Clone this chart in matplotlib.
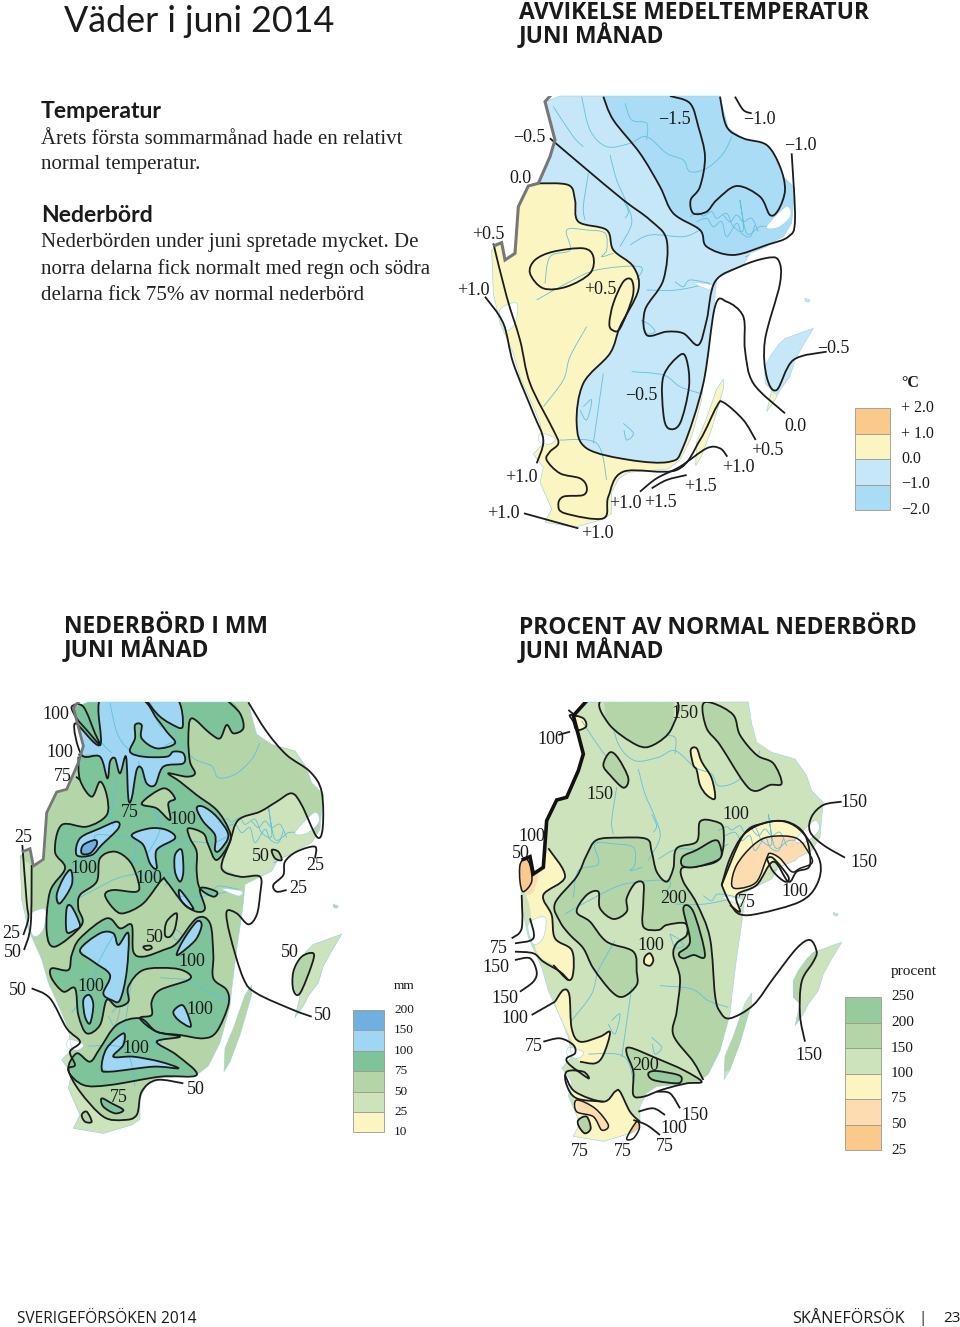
import numpy as np
import matplotlib
matplotlib.use("Agg")
import matplotlib.pyplot as plt
from matplotlib.path import Path
from matplotlib.patches import PathPatch
from matplotlib.transforms import Affine2D

# colours
BLUE_LIGHT = "#c6e7f7"
BLUE_MID = "#abdcf5"
YELLOW = "#fbf5c1"
ORANGE_LIGHT = "#fcdcb0"
ORANGE = "#fbc98c"
GREEN_PALE = "#cde3bc"
GREEN_SOFT = "#b3d5a8"
GREEN_MID = "#97cb9d"
GREEN_DEEP = "#7dc49b"
SKY = "#9ed6f4"
SKY_DEEP = "#6fb0e0"
WATER = "#62c0dc"

# shared geography, coordinates as read in the first map crop
mainland = [(330,-15),(810,-15),(820,60),(835,115),(880,145),(950,165),(985,215),(1000,260),(1035,295),(1030,340),
            (1025,400),(1000,440),(960,460),(950,470),(900,490),(880,525),(800,565),(795,620),(790,660),(775,760),
            (760,880),(755,930),(725,1040),(690,1110),(655,1137),(535,1147),(505,1167),(485,1207),(485,1270),(460,1287),
            (375,1312),(285,1297),(305,1257),(270,1177),(280,1132),(250,1092),(280,1060),(270,1000),(250,950),(210,860),
            (190,790),(150,700),(130,610),(125,480),(155,458),(165,510),(195,490),(205,350),(235,288),(265,280),
            (300,200),(315,150),(285,35)]
oland = [(820,867),(800,897),(765,997),(740,1057),(737,1127),(755,1097),(785,1017),(820,897)]
gotland = [(950,965),(975,930),(990,900),(1020,860),(1035,810),(1060,765),(1090,715),(1060,725),(1035,735),(1005,745),
           (985,765),(960,800),(945,830),(945,880),(965,900)]
islet = [(1065,625),(1080,630),(1075,637),(1065,633)]
inlets = [[(272,1030),(315,1045),(300,1062),(268,1055)],
          [(950,410),(1008,350),(1022,378),(985,412)],
          [(730,578),(790,585),(780,600)],
          [(150,660),(200,640),(195,700),(165,720)]]
border = [(330,-15),(285,35),(315,150),(300,200),(265,280),(235,288),(205,350),(195,490),(165,510),(155,458),(130,468)]
rivers = [
    [(395,20),(420,120),(470,170),(540,160),(590,140),(650,190),(700,210),(720,245),(770,235),(820,190),(845,140)],
    [(310,50),(370,140),(400,170)],
    [(480,195),(500,270),(530,340),(545,400),(510,470)],
    [(415,250),(400,350),(405,390)],
    [(540,465),(600,435),(700,440),(750,420)],
    [(525,40),(545,90),(590,100),(590,150)],
    [(285,580),(300,500),(360,480),(350,420),(410,420),(465,430),(470,480),(455,500),(490,490)],
    [(260,630),(350,580),(440,540),(570,530),(560,570)],
    [(590,600),(680,600),(780,580)],
    [(280,950),(340,870),(360,800),(410,710)],
    [(545,845),(640,855),(690,890),(750,910)],
    [(430,1060),(460,850)],
    [(330,1050),(440,1060),(470,1170)],
    [(720,380),(745,368),(760,378),(785,365),(800,385),(830,370),(850,410),(880,420),(870,330),(890,430),(930,410),(960,410)],
    [(740,395),(770,385),(790,410),(815,395),(830,440),(860,400),(875,430),(900,440),(915,405)],
    [(820,375),(840,395),(860,375),(880,395),(905,385),(925,425)],
    [(575,690),(590,730),(615,725),(600,705),(575,690)],
    [(400,950),(425,930),(410,990),(390,960)],
    [(520,1000),(550,1030),(530,1050),(522,1020)],
    [(520,330),(535,365),(525,385)],
    [(885,500),(925,490),(905,530)],
    [(675,575),(700,590),(720,570),(780,580)],
]

# map 1: temperature anomaly
temp_yellow = [(260,280),(355,285),(375,330),(385,395),(470,420),(490,480),(550,530),(565,600),(510,710),(480,790),
               (400,880),(380,1000),(410,1075),(540,1110),(660,1115),(700,1070),(760,880),(795,650),(830,635),(880,680),
               (885,780),(910,880),(1005,970),(1005,1400),(60,1400),(60,280)]
temp_blue = [(460,20),(490,90),(570,190),(630,290),(670,370),(750,420),(770,470),(850,495),(950,465),(1015,440),
             (1035,390),(1025,190),(1100,100),(1000,0),(460,-20)]
temp_lines = [
    [(660,18),(720,40),(745,110),(765,200),(750,290),(722,330),(730,370),(770,365),(800,330),(860,288),(930,320),
     (960,375),(985,360),(1005,300),(990,230),(950,165),(880,145),(830,110),(810,20)],
    [(300,145),(400,230),(520,330),(600,390),(650,450),(640,570),(585,660),(590,735),(650,725),(700,730),(745,765),
     (770,690),(795,575),(870,530),(945,505),(985,510),(990,580),(945,750),(950,860),(980,900),(1030,810),(1130,785)],
    [(130,460),(170,620),(210,750),(240,880),(310,1020),(325,1060),(300,1085),(290,1110),(330,1150),(390,1165),
     (410,1190),(400,1215),(340,1220),(325,1245),(345,1270),(460,1285),(475,1220),(520,1145),(680,1140),(750,1050),
     (800,950),(820,937),(880,990),(917,1050)],
    [(105,620),(160,700),(190,820),(250,970),(280,1050),(260,1120)],
    [(222,1270),(385,1315)],
    [(570,1205),(620,1165),(690,1130),(770,1075),(810,1075),(832,1100)],
    [(605,1195),(650,1170),(710,1155)],
    [(855,20),(880,60),(905,70)],
]
temp_ovals = [
    [(640,860),(690,795),(710,810),(717,890),(690,1000),(655,1015),(640,970)],
    [(240,550),(255,510),(310,485),(400,475),(430,500),(420,550),(350,590),(280,595)],
    [(478,700),(490,640),(520,575),(545,570),(548,620),(510,715),(487,720)],
]
temp_labels = [("\u22120.5",529,136),("\u22121.5",674,118),("\u22121.0",759,118),("\u22121.0",800,144),("0.0",520,177),
               ("+0.5",488,233),("+1.0",473,289),("+0.5",600,288),("\u22120.5",833,347),("\u22120.5",641,394),
               ("0.0",795,425),("+0.5",767,449),("+1.0",738,466),("+1.0",521,476),("+1.5",700,485),("+1.0",625,502),
               ("+1.5",660,501),("+1.0",503,512),("+1.0",597,532)]
temp_ticks = ["+ 2.0","+ 1.0","0.0","\u22121.0","\u22122.0"]
temp_colours = [ORANGE, YELLOW, BLUE_LIGHT, BLUE_MID]

# map 2: precipitation in mm
rain_pale = [
    [(665,520),(690,440),(715,375),(780,350),(830,320),(875,295),(905,330),(940,410),(965,420),(1000,500),(900,600),
     (780,700),(745,688),(770,660),(780,600),(780,545),(720,545)],
    [(745,22),(800,110),(860,180),(930,230),(965,290),(1000,280),(900,100),(800,15)],
    [(95,880),(150,910),(200,1000),(240,1040),(210,1070),(225,1110),(205,1125),(240,1190),(310,1265),(370,1275),
     (410,1260),(425,1190),(470,1155),(550,1165),(560,1350),(100,1350),(0,1000)],
    [(95,510),(90,700),(70,770),(60,900),(0,900),(0,450)],
    [(840,700),(1040,700),(1040,1000),(840,1000)],
]
rain_green = [
    [(235,185),(240,255),(275,305),(300,260),(320,300),(320,360),(260,395),(185,390),(165,470),(195,520),(150,590),
     (140,710),(165,755),(245,690),(235,640),(240,600),(290,560),(300,490),(345,470),(390,500),(415,560),(410,590),
     (340,585),(315,600),(340,640),(370,655),(430,625),(485,555),(500,560),(550,625),(590,650),(615,640),(600,580),
     (650,590),(640,605),(600,580),(590,530),(590,470),(570,430),(565,400),(610,415),(625,450),(650,495),(690,440),
     (685,400),(650,345),(590,300),(540,260),(505,235),(560,245),(585,235),(570,200),(565,130),(575,70),(630,115),
     (660,130),(680,90),(700,115),(730,100),(720,55),(680,15),(540,15),(235,15)],
    [(215,780),(240,730),(320,670),(360,700),(395,690),(400,770),(430,785),(490,765),(530,745),(590,670),(630,685),
     (640,780),(640,850),(680,885),(685,930),(650,1010),(610,1030),(540,1020),(470,1010),(420,970),(455,960),(455,920),
     (480,885),(565,855),(565,835),(520,820),(430,825),(385,875),(385,920),(350,935),(320,915),(300,990),(260,1015),
     (235,960),(225,880),(190,890),(155,850),(155,820),(205,825)],
    [(300,1060),(350,990),(420,970),(470,1010),(540,1025),(470,1040),(530,1080),(590,1140),(480,1145),(330,1170),
     (250,1170),(205,1125),(230,1075),(270,1100)],
    [(305,1210),(335,1225),(370,1245),(345,1255),(310,1235)],
    [(215,35),(250,35),(285,115),(300,150),(260,105),(230,70)],
]
rain_soft = [
    [(425,325),(490,280),(525,310),(505,325),(510,375),(470,340)],
    [(500,680),(530,655),(525,700),(510,725),(495,720)],
    [(430,755),(450,752),(455,760),(440,765)],
    [(815,465),(835,470),(845,495),(825,490)],
    [(245,1260),(260,1250),(275,1280),(255,1280)],
    [(880,830),(905,785),(940,775),(935,810),(900,895),(880,885)],
]
rain_sky = [
    [(225,85),(300,150),(302,10),(420,10),(470,70),(500,110),(525,145),(470,160),(425,130),(425,90),(405,90),(405,130),
     (390,170),(430,185),(500,185),(520,170),(550,175),(550,205),(490,215),(465,270),(440,265),(425,220),(410,225),
     (395,310),(385,310),(378,185),(360,235),(345,190),(330,200),(322,250),(300,185),(245,180)],
    [(445,10),(530,10),(548,95),(510,85),(470,55)],
    [(590,340),(610,335),(650,365),(685,420),(660,465),(645,465),(645,420),(610,380)],
    [(230,480),(240,430),(300,400),(350,380),(355,400),(305,450),(275,480)],
    [(395,420),(450,400),(500,405),(525,430),(470,465),(470,520),(450,505),(430,450)],
    [(525,480),(545,465),(550,530),(540,560),(525,530)],
    [(170,600),(190,550),(212,525),(215,570),(180,625)],
    [(200,640),(215,635),(240,690),(225,705),(200,710)],
    [(540,585),(580,640),(560,635),(540,610)],
    [(240,765),(300,715),(340,715),(355,750),(385,715),(380,830),(360,915),(335,915),(310,895),(330,840),(280,800)],
    [(530,780),(550,735),(590,680),(605,690),(590,730),(560,760)],
    [(250,915),(268,900),(280,930),(270,985),(255,965)],
    [(520,950),(545,930),(560,950),(572,995),(535,975)],
    [(305,1120),(320,1060),(370,1015),(370,1050),(340,1085),(400,1085),(480,1100),(535,1120),(460,1115),(330,1130)],
]
rain_deep = [[(245,475),(250,450),(285,435),(290,450),(270,475)]]
rain_lines = [
    [(745,22),(800,110),(860,180),(930,230),(965,290),(968,400),(950,425),(905,330),(875,295),(830,320),(780,350),
     (715,375),(690,440),(665,520),(720,545),(780,545),(780,600),(770,660),(745,688),(710,655),(680,650),(690,720),
     (730,850),(770,895),(880,945),(935,965)],
    [(67,450),(80,620),(85,670),(70,720)],
    [(95,510),(92,690),(72,765)],
    [(945,490),(945,455),(890,470),(855,500),(850,540),(820,570),(830,590),(860,585)],
    [(95,880),(150,910),(200,1000),(240,1040),(210,1070),(225,1110),(205,1125),(240,1190),(310,1265),(370,1275),
     (410,1260),(425,1190),(470,1155),(550,1165)],
    [(235,178),(245,182)],
    [(228,245),(240,255)],
]
rain_labels = [("100",56,713),("100",60,751),("75",63,775),("25",23,836),("75",130,811),("100",183,818),("100",84,867),
               ("100",149,877),("50",261,855),("25",315,864),("25",298,887),("25",11,932),("50",13,951),("50",155,936),
               ("100",192,960),("50",290,951),("50",18,989),("100",91,985),("100",200,1008),("50",323,1014),
               ("100",136,1047),("50",196,1088),("75",119,1096)]
rain_ticks = ["200","150","100","75","50","25","10"]
rain_colours = [SKY_DEEP, SKY, GREEN_DEEP, GREEN_SOFT, GREEN_PALE, YELLOW]

# map 3: percent of normal
pct_soft = [
    [(372,10),(385,85),(470,150),(520,150),(575,100),(580,10)],
    [(668,30),(700,25),(760,60),(780,120),(830,180),(880,205),(905,265),(870,270),(825,288),(790,260),(720,150),(680,100)],
    [(370,210),(390,172),(415,190),(445,250),(430,278),(390,240)],
    [(440,1075),(450,1058),(530,1090),(610,1125),(665,1160),(620,1165),(560,1180),(530,1190),(490,1205),(460,1200),(460,1130)],
    [(295,1275),(320,1265),(332,1300),(315,1315),(297,1295)],
]
pct_big = [(670,1155),(640,1100),(580,1020),(590,950),(600,850),(580,780),(590,745),(620,720),(615,685),(560,690),
           (535,705),(490,695),(490,620),(490,565),(465,565),(440,610),(440,650),(400,672),(360,640),(355,590),(320,600),
           (290,650),(330,680),(380,740),(460,770),(470,830),(470,870),(430,905),(395,890),(340,820),(310,760),(270,720),
           (240,680),(225,625),(290,545),(320,480),(350,435),(420,428),(500,432),(515,470),(530,530),(560,560),(580,520),
           (590,460),(650,440),(660,380),(700,378),(730,400),(720,490),(650,515),(605,520),(610,560),(650,625),(690,730),
           (705,900),(720,950),(750,970),(820,930),(880,850),(950,760),(990,735),(1010,770),(1000,800),(965,860),(960,960),
           (975,1040)]
pct_mid = [
    [(608,485),(650,465),(700,437),(718,445),(720,490),(650,515),(608,513)],
    [(610,640),(640,650),(675,780),(640,780),(610,790),(597,775),(630,740)],
    [(505,1135),(530,1128),(595,1140),(605,1155),(590,1165),(520,1155)],
]
pct_yellow = [
    [(270,60),(310,70),(318,95),(290,105),(280,80)],
    [(632,165),(650,160),(665,200),(695,250),(705,310),(680,300),(660,270),(650,225),(640,210)],
    [(205,460),(255,545),(190,600),(215,660),(225,730),(275,765),(280,830),(265,855),(220,810),(170,770),(150,640),(140,590),(175,535)],
    [(495,785),(510,775),(520,795),(510,812),(493,805)],
    [(225,920),(250,885),(268,900),(275,1000),(300,1040),(360,1025),(390,1012),(370,1080),(345,1105),(300,1100),(280,1045),(235,960)],
    [(255,1140),(285,1190),(370,1220),(405,1190),(420,1190),(450,1250),(480,1280),(470,1360),(240,1360),(285,1220)],
    [(725,570),(750,490),(790,420),(850,385),(920,380),(975,420),(990,510),(950,530),(925,560),(880,500),(830,570),(770,600),(780,650),(750,630)],
]
pct_peach = [
    [(290,1215),(345,1240),(385,1290),(365,1305),(340,1265),(290,1250)],
    [(755,570),(770,510),(820,450),(870,425),(950,430),(990,480),(995,505),(960,520),(935,530),(900,490),(870,475),(860,490),(830,560),(780,580)],
    [(145,560),(175,535),(160,590),(140,600)],
]
pct_orange = [
    [(120,510),(135,490),(150,510),(155,560),(130,590),(120,560)],
    [(440,1330),(470,1280),(478,1300),(460,1330)],
]
pct_lines = [
    [(1085,320),(1030,330),(995,365),(990,410),(1030,450),(1095,488)],
    [(265,45),(290,65)],
    [(270,110),(235,120)],
    [(125,600),(125,700),(95,730)],
    [(105,745),(160,730),(150,670)],
    [(105,770),(160,775),(190,800),(240,830),(265,855)],
    [(105,795),(150,790),(170,830),(160,860),(120,890)],
    [(155,960),(225,920)],
    [(190,1040),(240,1030),(280,1050),(285,1075),(260,1090),(270,1110),(325,1150),(310,1130),(260,1130),(260,1170),(290,1210),(370,1220)],
    [(475,1250),(520,1240),(555,1260)],
    [(460,1275),(500,1290),(540,1320)],
    [(530,1190),(570,1195),(600,1240)],
    [(725,570),(790,420),(850,385),(915,380),(970,415),(1020,500),(1010,570),(960,620),(840,655),(780,658),(750,625),(725,570)],
    [(860,490),(880,490),(925,545),(915,560),(880,530),(860,490)],
]
pct_labels = [("150",685,712),("100",551,738),("150",600,793),("100",736,813),("150",854,801),("150",864,861),
              ("100",532,835),("50",521,852),("200",674,897),("75",747,901),("100",795,890),("100",651,944),("75",499,947),
              ("150",496,966),("150",505,997),("100",515,1017),("75",534,1045),("200",646,1064),("150",809,1054),
              ("150",695,1114),("100",674,1127),("75",665,1145),("75",580,1150),("75",623,1150)]
pct_ticks = ["250","200","150","100","75","50","25"]
pct_colours = [GREEN_MID, GREEN_SOFT, GREEN_PALE, YELLOW, ORANGE_LIGHT, ORANGE]

body_text = [("Årets första sommarmånad hade en relativt",139),("normal temperatur.",165),
             ("Nederbörden under juni spretade mycket. De",243),("norra delarna fick normalt med regn och södra",269),
             ("delarna fick 75% av normal nederbörd",295)]


def smooth(pts, closed=False):
    # catmull-rom through the read points, as bezier segments
    p = np.array(pts, dtype=float)
    n = len(p)
    verts = [p[0]]
    codes = [Path.MOVETO]
    for i in range(n if closed else n - 1):
        if closed:
            p0, p1, p2, p3 = p[(i-1) % n], p[i], p[(i+1) % n], p[(i+2) % n]
        else:
            p0, p1, p2, p3 = p[max(i-1, 0)], p[i], p[i+1], p[min(i+2, n-1)]
        verts += [p1 + (p2-p0)/6, p2 - (p3-p1)/6, p2]
        codes += [Path.CURVE4] * 3
    return Path(verts, codes)


def closed_fill(pts):
    path = smooth(pts)
    verts = np.vstack([path.vertices, path.vertices[:1]])
    return Path(verts, list(path.codes) + [Path.CLOSEPOLY])


fig = plt.figure(figsize=(9.6, 13.27), dpi=100)
ax = fig.add_axes([0, 0, 1, 1])
ax.set_xlim(0, 960)
ax.set_ylim(1327, 0)
ax.axis("off")

z = {"n": 1}


def next_z():
    z["n"] += 0.01
    return z["n"]


class MapPanel:
    def __init__(self, zoom_x, zoom_y, shift_x, shift_y, top, base, border_colour, border_width):
        self.own = Affine2D().scale(1/3).translate(zoom_x, zoom_y) + ax.transData
        self.shared = Affine2D().translate(shift_x, shift_y).scale(1/3).translate(zoom_x, zoom_y) + ax.transData
        self.top = top
        limit = (top - zoom_y) * 3 - shift_y
        land = [np.array(mainland, float), np.array(oland, float), np.array(gotland, float), np.array(islet, float)]
        land[0][:, 1] = np.maximum(land[0][:, 1], limit)
        self.land = Path.make_compound_path(*[Path(np.vstack([a, a[:1]]), closed=True) for a in land])
        ax.add_patch(PathPatch(self.land, fc=base, ec="none", transform=self.shared, zorder=next_z()))
        self.box = Path([(0, top), (960, top), (960, 1327), (0, 1327), (0, top)], closed=True)
        self.border_style = (border_colour, border_width)

    def fill(self, pts, colour):
        patch = PathPatch(closed_fill(pts), fc=colour, ec="none", transform=self.own, zorder=next_z())
        ax.add_patch(patch)
        patch.set_clip_path(self.land, self.shared)

    def stroke(self, path, lw=1.3):
        patch = PathPatch(path, fc="none", ec="#1c1c1c", lw=lw, transform=self.own, zorder=next_z())
        ax.add_patch(patch)
        patch.set_clip_path(self.box, ax.transData)

    def zone(self, pts, colour):
        self.fill(pts, colour)
        self.stroke(smooth(pts, closed=True))

    def water(self):
        for r in rivers:
            river = PathPatch(smooth(r), fc="none", ec=WATER, lw=0.6, transform=self.shared, zorder=next_z())
            ax.add_patch(river)
            river.set_clip_path(self.land, self.shared)
        for gap in inlets:
            ax.add_patch(PathPatch(smooth(gap, closed=True), fc="white", ec="#9ad3e4", lw=0.4,
                                   transform=self.shared, zorder=next_z()))
        ax.add_patch(PathPatch(self.land, fc="none", ec="#9ad3e4", lw=0.4, transform=self.shared, zorder=next_z()))

    def finish(self):
        line = PathPatch(Path(np.array(border, float)), fc="none", ec=self.border_style[0], lw=self.border_style[1],
                         transform=self.shared, zorder=next_z())
        ax.add_patch(line)
        line.set_clip_path(self.box, ax.transData)


def labels(items, size=13):
    for txt, x, y in items:
        ax.text(x, y + 1.5, txt, family="Liberation Serif", fontsize=size, color="#1a1a1a", ha="center", va="center", zorder=5)


def legend(x, y0, w, row, colours, ticks, title, tx, size, title_y):
    for i, c in enumerate(colours):
        ax.bar(x + w/2, row, width=w, bottom=y0 + i*row, color=c, edgecolor="#9a9a8a", linewidth=0.6, zorder=4)
    for i, t in enumerate(ticks):
        ax.text(tx, y0 + i*row, t, family="Liberation Serif", fontsize=size, color="#1a1a1a", va="center", zorder=5)
    ax.text(tx, title_y, title, family="Liberation Serif", fontsize=size, color="#1a1a1a", va="center", zorder=5,
            fontweight="bold" if title == "°C" else "normal")


# temperature map
m1 = MapPanel(450, 90, 0, 0, 96, BLUE_LIGHT, "#777777", 2.2)
m1.fill(temp_blue, BLUE_MID)
m1.fill(temp_yellow, YELLOW)
m1.water()
m1.stroke(smooth(temp_blue[:12]))
m1.stroke(smooth(temp_yellow[:23]))
for line in temp_lines:
    m1.stroke(smooth(line))
for oval in temp_ovals:
    m1.stroke(smooth(oval, closed=True))
m1.finish()
labels(temp_labels)
legend(855, 408, 35, 25.5, temp_colours, temp_ticks, "°C", 901, 11.5, 383)

# rain map
m2 = MapPanel(0, 695, -65, 3, 702, GREEN_SOFT, "#777777", 2.0)
for part in rain_pale:
    m2.fill(part, GREEN_PALE)
for part in rain_green:
    m2.fill(part, GREEN_DEEP)
for part in rain_sky:
    m2.fill(part, SKY)
m2.water()
for part in rain_green:
    m2.stroke(smooth(part[:-2]) if part is rain_green[0] else smooth(part, closed=True))
for part in rain_sky:
    m2.stroke(smooth(part, closed=True))
for part in rain_soft:
    m2.zone(part, GREEN_SOFT)
for part in rain_deep:
    m2.zone(part, SKY_DEEP)
for line in rain_lines:
    m2.stroke(smooth(line))
m2.finish()
labels(rain_labels)
legend(353, 1010, 31, 20.4, rain_colours, rain_ticks, "mm", 394, 9.5, 986)

# percent map
m3 = MapPanel(480, 695, -5, 27, 702, GREEN_PALE, "#111111", 2.6)
m3.fill(pct_big, GREEN_SOFT)
for part in pct_yellow:
    m3.fill(part, YELLOW)
for part in pct_peach:
    m3.fill(part, ORANGE_LIGHT)
for part in pct_orange:
    m3.fill(part, ORANGE)
m3.water()
m3.stroke(smooth(pct_big))
for part in pct_soft:
    m3.zone(part, GREEN_SOFT)
for part in pct_mid:
    m3.zone(part, GREEN_MID)
for i, part in enumerate(pct_yellow):
    if i in (0, 1, 3):
        m3.stroke(smooth(part, closed=True))
    elif i == 2:
        m3.stroke(smooth(part[:9]))
    elif i == 4:
        m3.stroke(smooth(part[:10]))
    elif i == 5:
        m3.stroke(smooth(part[:7]))
    else:
        m3.stroke(smooth(part))
for part in pct_peach[:2] + pct_orange:
    m3.stroke(smooth(part, closed=True), lw=1.1)
for line in pct_lines:
    m3.stroke(smooth(line))
m3.finish()
labels(pct_labels)
legend(845, 997, 36, 25.5, pct_colours, pct_ticks, "procent", 891, 11, 972)

# page text
ax.text(64, 21, "Väder i juni 2014", family="Lato", fontsize=25.8, color="#1a1a1a", va="center", zorder=6)
for txt, x, y in [("AVVIKELSE MEDELTEMPERATUR", 519, 19), ("JUNI MÅNAD", 519, 43),
                  ("NEDERBÖRD I MM", 64, 633), ("JUNI MÅNAD", 64, 657),
                  ("PROCENT AV NORMAL NEDERBÖRD", 519, 634), ("JUNI MÅNAD", 519, 658)]:
    ax.text(x, y, txt, family="Open Sans", fontsize=16.5, fontweight="bold", color="#1a1a1a", va="baseline", zorder=6)
for txt, y in [("Temperatur", 111), ("Nederbörd", 215)]:
    ax.text(41, y, txt, family="Lato", fontsize=16.6, fontweight="bold", color="#1a1a1a", va="center", zorder=6)
for txt, y in body_text:
    ax.text(41, y, txt, family="Liberation Serif", fontsize=15, color="#222222", va="center", zorder=6)
ax.text(17, 1319, "SVERIGEFÖRSÖKEN 2014", family="Open Sans", fontsize=11.2, color="#1a1a1a", va="center")
ax.text(792, 1319, "SKÅNEFÖRSÖK", family="Open Sans", fontsize=11.6, color="#1a1a1a", va="center")
ax.text(923, 1319, "|", family="Open Sans", fontsize=11, color="#1a1a1a", va="center", ha="center")
ax.text(943, 1319, "23", family="Open Sans", fontsize=11, color="#1a1a1a", va="center")

fig.savefig("out.png", dpi=100)
